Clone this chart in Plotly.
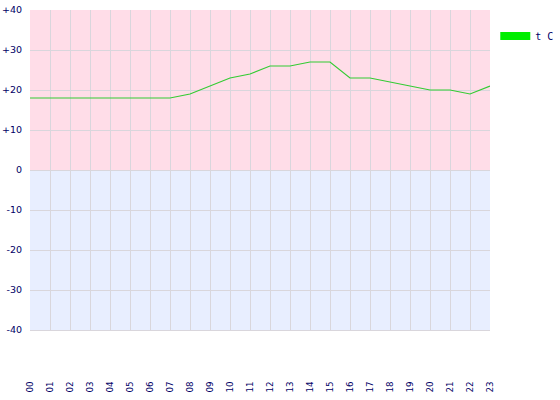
import plotly.graph_objects as go

hours = list(range(24))
hour_labels = [f"{h:02d}" for h in hours]
temps = [18, 18, 18, 18, 18, 18, 18, 18, 19, 21, 23, 24, 26, 26, 27, 27,
         23, 23, 22, 21, 20, 20, 19, 21]
y_ticks = [40, 30, 20, 10, 0, -10, -20, -30, -40]
y_tick_labels = ["+40", "+30", "+20", "+10", "0", "-10", "-20", "-30", "-40"]
series_name = "t C"

navy = "#000066"
fig = go.Figure()
fig.add_trace(go.Scatter(x=hours, y=temps, mode="lines",
                         line=dict(color="#33cc33", width=1.2),
                         showlegend=False, hoverinfo="skip"))
fig.add_trace(go.Scatter(x=[None], y=[None], mode="lines",
                         line=dict(color="#00ee00", width=8),
                         name=series_name))

fig.add_shape(type="rect", xref="paper", yref="y", x0=0, x1=1, y0=0, y1=40,
              fillcolor="#ffdde8", line=dict(width=0), layer="below")
fig.add_shape(type="rect", xref="paper", yref="y", x0=0, x1=1, y0=-40, y1=0,
              fillcolor="#e8eeff", line=dict(width=0), layer="below")

fig.update_layout(
    width=560, height=400,
    margin=dict(l=30, r=70, t=10, b=70, autoexpand=False),
    paper_bgcolor="white", plot_bgcolor="white",
    font=dict(family="Verdana, DejaVu Sans, sans-serif", size=9.5, color=navy),
    legend=dict(x=1.0115, y=0.964, xanchor="left", yanchor="top",
                font=dict(family="DejaVu Sans Mono, monospace", size=10, color=navy),
                bgcolor="rgba(0,0,0,0)", itemwidth=30),
)
fig.update_xaxes(range=[0, 23], tickmode="array", tickvals=hours, ticktext=hour_labels,
                 tickangle=-90, showgrid=True, gridcolor="#d9d6dc", gridwidth=1,
                 zeroline=False, ticks="", ticklabelstandoff=47, automargin=False,
                 tickfont=dict(size=8.7),
                 showline=True, linecolor="#d9d6dc", mirror=False)
fig.update_yaxes(range=[-40, 40], tickmode="array", tickvals=y_ticks, ticktext=y_tick_labels,
                 showgrid=True, gridcolor="#d9d6dc", gridwidth=1, zeroline=False,
                 ticks="", ticklabelstandoff=7, automargin=False)

fig.write_html("out.html", config={"displayModeBar": False},
               post_script="document.body.style.margin='0';")
